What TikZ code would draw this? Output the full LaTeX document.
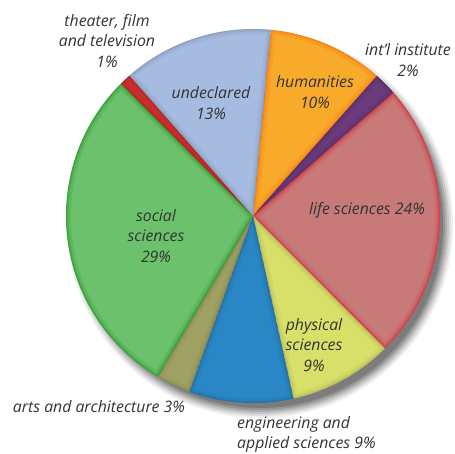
\documentclass[tikz,border=0pt]{standalone}
\usepackage{fontspec}
\setmainfont{Open Sans}
\usetikzlibrary{calc}
\definecolor{cUnd}{HTML}{A6BBE0}
\definecolor{cHum}{HTML}{F8AA2A}
\definecolor{cInt}{HTML}{6B3B7C}
\definecolor{cLife}{HTML}{C77A78}
\definecolor{cPhys}{HTML}{D8E06A}
\definecolor{cEng}{HTML}{2A87C6}
\definecolor{cArts}{HTML}{A0A264}
\definecolor{cSoc}{HTML}{6CC26C}
\definecolor{cThe}{HTML}{D0302E}
\definecolor{cText}{HTML}{333333}
\tikzset{
  lbl/.style={font=\itshape\fontsize{15.8}{20.5}\selectfont, text=cText, inner sep=0pt, align=center},
}
\newcommand{\pieslice}[4]{% color, rim color, start, end
  \begin{scope}
    \clip (C) -- ++(#3:187) arc[start angle=#3, end angle=#4, radius=187] -- cycle;
    \fill[#1] (C) -- ++(#3:187) arc[start angle=#3, end angle=#4, radius=187] -- cycle;
    \draw[#2, line width=10pt, opacity=0.12] (C) -- ++(#3:187) arc[start angle=#3, end angle=#4, radius=187] -- cycle;
    \draw[#2, line width=5pt, opacity=0.18] (C) -- ++(#3:187) arc[start angle=#3, end angle=#4, radius=187] -- cycle;
    \draw[#2, line width=2pt, opacity=0.25] (C) -- ++(#3:187) arc[start angle=#3, end angle=#4, radius=187] -- cycle;
  \end{scope}}
\begin{document}
\begin{tikzpicture}[x=1pt,y=1pt]
\useasboundingbox (0,0) rectangle (455,454);
\fill[white] (0,0) rectangle (455,454);
\coordinate (C) at (253,238);
% shadow
\foreach \r/\o in {193/0.06,191/0.08,189/0.10,187/0.12,185/0.14,183/0.16}{
  \fill[black, opacity=\o] ($(C)+(7,-9)$) circle (\r);
}
\pieslice{cHum}{orange!70!red}{84.5}{48.5}
\pieslice{cInt}{cInt!70!black}{48.5}{41.3}
\pieslice{cLife}{red!60!purple}{41.3}{-45.1}
\pieslice{cPhys}{cPhys!70!black}{-45.1}{-77.5}
\pieslice{cEng}{cEng!70!black}{-77.5}{-109.9}
\pieslice{cArts}{cArts!70!black}{-109.9}{-120.7}
\pieslice{cSoc}{green!50!black}{-120.7}{-225.1}
\pieslice{cThe}{cThe!70!black}{134.9}{131.3}
\pieslice{cUnd}{cUnd!70!black}{131.3}{84.5}
% labels
\node[lbl] (theater) at (107,413) {theater, film\\and television\\1\%};
\node[lbl] (undecl) at (211,351) {undeclared\\13\%};
\node[lbl] (human) at (315,362) {humanities\\10\%};
\node[lbl] (intl) at (408,394) {int’l institute\\2\%};
\node[lbl] (life) at (367,244) {life sciences 24\%};
\node[lbl] (social) at (156,218) {social\\sciences\\29\%};
\node[lbl] (phys) at (314,109) {physical\\sciences\\9\%};
\node[lbl] (arts) at (99,47) {arts and architecture 3\%};
\node[lbl, align=left, anchor=west] (eng) at (237,19.5) {engineering and\\applied sciences 9\%};
\end{tikzpicture}
\end{document}
